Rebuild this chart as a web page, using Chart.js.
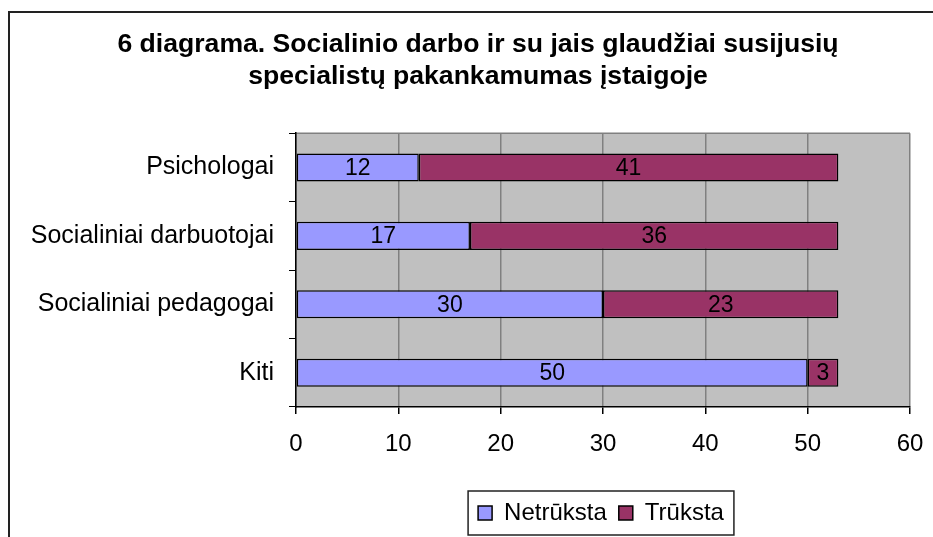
<!DOCTYPE html>
<html>
<head>
<meta charset="utf-8">
<script src="https://cdn.jsdelivr.net/npm/chart.js@4"></script>
<style>
  body { margin: 0; background: #fff; }
  canvas { display: block; }
</style>
</head>
<body>
<canvas id="chart" width="933" height="537"></canvas>
<script>
const FONT = "'Liberation Sans', Arial, sans-serif";

const titleLines = ['6 diagrama. Socialinio darbo ir su jais glaudžiai susijusių', 'specialistų pakankamumas įstaigoje'];
const categories = ['Psichologai', 'Socialiniai darbuotojai', 'Socialiniai pedagogai', 'Kiti'];
const netruksta = [12, 17, 30, 50];
const truksta = [41, 36, 23, 3];
const xTicks = [0, 10, 20, 30, 40, 50, 60];

// Plot background, outer frame and legend frame
const frame = {
  id: 'frame',
  afterLayout(chart) {
    // title and legend are off-centre in the original
    chart.titleBlock.left += 23;
    chart.titleBlock.right += 23;
    chart.legend.left += 146;
    chart.legend.right += 146;
  },
  beforeDraw(chart) {
    const { ctx, chartArea: a } = chart;
    ctx.save();
    ctx.strokeStyle = '#222';
    ctx.lineWidth = 2;
    ctx.strokeRect(9, 12, 1000, 1000);
    ctx.fillStyle = '#C0C0C0';
    ctx.fillRect(a.left, a.top, a.right - a.left, a.bottom - a.top);
    ctx.strokeStyle = '#808080';
    ctx.lineWidth = 1.5;
    ctx.beginPath();
    ctx.moveTo(a.left, a.top);
    ctx.lineTo(a.right, a.top);
    ctx.stroke();
    ctx.restore();
  },
  afterDraw(chart) {
    const boxes = chart.legend.legendHitBoxes;
    if (!boxes || !boxes.length) return;
    const l = Math.min(...boxes.map((b) => b.left)) - 10;
    const r = Math.max(...boxes.map((b) => b.left + b.width)) + 10;
    const cy = boxes[0].top + boxes[0].height / 2;
    const { ctx } = chart;
    ctx.save();
    ctx.strokeStyle = '#222';
    ctx.lineWidth = 1.5;
    ctx.strokeRect(l, cy - 22, r - l, 44);
    ctx.restore();
  },
};

// Value labels in the middle of each bar segment
const barLabels = {
  id: 'barLabels',
  afterDatasetsDraw(chart) {
    const { ctx } = chart;
    ctx.save();
    ctx.font = `23px ${FONT}`;
    ctx.fillStyle = '#000';
    ctx.textAlign = 'center';
    ctx.textBaseline = 'middle';
    chart.data.datasets.forEach((ds, i) => {
      chart.getDatasetMeta(i).data.forEach((bar, j) => {
        ctx.fillText(String(ds.data[j]), (bar.x + bar.base) / 2, bar.y + 1);
      });
    });
    ctx.restore();
  },
};

new Chart(document.getElementById('chart'), {
  type: 'bar',
  data: {
    labels: categories,
    datasets: [
      { label: 'Netrūksta', data: netruksta, backgroundColor: '#9999FF', borderColor: '#000', borderWidth: 1.5, borderSkipped: false },
      { label: 'Trūksta', data: truksta, backgroundColor: '#993366', borderColor: '#000', borderWidth: 1.5, borderSkipped: false },
    ],
  },
  options: {
    indexAxis: 'y',
    responsive: false,
    animation: false,
    barPercentage: 0.41,
    categoryPercentage: 1,
    layout: { padding: { left: 0, right: 23, top: 0, bottom: 2 } },
    plugins: {
      title: {
        display: true,
        text: titleLines,
        color: '#000',
        font: { family: FONT, size: 26.6, weight: 'bold', lineHeight: 1.17 },
        padding: { top: 29.5, bottom: 41.5 },
      },
      legend: {
        position: 'bottom',
        labels: {
          color: '#000',
          font: { family: FONT, size: 24 },
          boxWidth: 14,
          boxHeight: 14,
          padding: 12,
        },
      },
      tooltip: { enabled: false },
    },
    scales: {
      x: {
        stacked: true,
        min: 0,
        max: 60,
        afterBuildTicks(scale) { scale.ticks = xTicks.map((v) => ({ value: v })); },
        afterFit(scale) { scale.height = 82; scale.paddingRight = 0; scale.paddingLeft = 0; },
        grid: { color: '#808080', lineWidth: 1.5, tickColor: '#000', tickLength: 7 },
        border: { color: '#000', width: 1.5 },
        ticks: { color: '#000', font: { family: FONT, size: 24 }, padding: 16 },
      },
      y: {
        stacked: true,
        afterFit(scale) { scale.width = 296; },
        grid: { drawOnChartArea: false, offset: true, tickColor: '#000', tickLength: 7 },
        border: { color: '#000', width: 1.5 },
        ticks: { color: '#000', font: { family: FONT, size: 25 }, padding: 15 },
      },
    },
  },
  plugins: [frame, barLabels],
});
</script>
</body>
</html>
